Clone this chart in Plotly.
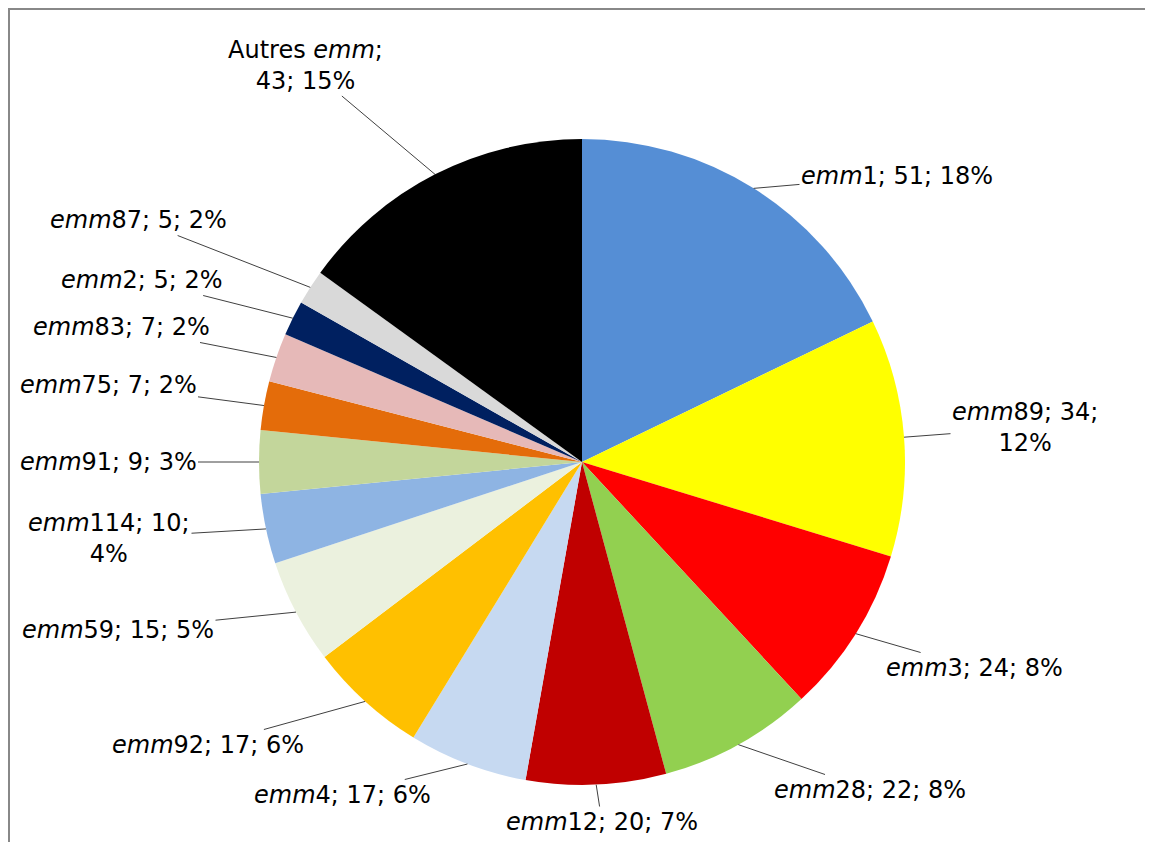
import math
import plotly.graph_objects as go

# page body adds an 8px margin, so the figure is drawn 8px smaller and shifted
OFF = 8
W, H = 1153 - OFF, 842 - OFF

types = ["<i>emm</i>1", "<i>emm</i>89", "<i>emm</i>3", "<i>emm</i>28", "<i>emm</i>12",
         "<i>emm</i>4", "<i>emm</i>92", "<i>emm</i>59", "<i>emm</i>114", "<i>emm</i>91",
         "<i>emm</i>75", "<i>emm</i>83", "<i>emm</i>2", "<i>emm</i>87", "Autres <i>emm</i>"]
counts = [51, 34, 24, 22, 20, 17, 17, 15, 10, 9, 7, 7, 5, 5, 43]
percents = [18, 12, 8, 8, 7, 6, 6, 5, 4, 3, 2, 2, 2, 2, 15]

colors = ["#558ED5", "#FFFF00", "#FF0000", "#92D050", "#C00000",
          "#C6D9F1", "#FFC000", "#EBF1DE", "#8EB4E3", "#C3D69B",
          "#E46C0A", "#E6B9B8", "#002060", "#D9D9D9", "#000000"]

# label centres in page pixels (layout only) and where lines wrap
label_px = [(897, 176), (1025, 428), (974, 668), (870, 790), (602, 822),
            (342, 795), (208, 745), (118, 630), (109, 538), (108, 462),
            (108, 385), (121, 327), (142, 280), (138, 220), (305, 65)]
wrap = {1: 2, 8: 2, 14: 1}

cx, cy, R = 582 - OFF, 462 - OFF, 323

fig = go.Figure(go.Pie(
    values=counts, labels=types, sort=False, direction="clockwise", rotation=0,
    marker=dict(colors=colors, line=dict(width=0)),
    textinfo="none", hoverinfo="label+value+percent", showlegend=False,
    domain=dict(x=[(cx - R) / W, (cx + R) / W], y=[(H - cy - R) / H, (H - cy + R) / H]),
))

total = sum(counts)
cum = 0
for i, v in enumerate(counts):
    mid = (cum + v / 2) / total * 2 * math.pi
    cum += v
    ex = cx + R * math.sin(mid)
    ey = cy - R * math.cos(mid)
    parts = [types[i], str(counts[i]), f"{percents[i]}%"]
    if i in wrap:
        k = wrap[i]
        text = "; ".join(parts[:k]) + ";<br>" + "; ".join(parts[k:])
    else:
        text = "; ".join(parts)
    lx, ly = label_px[i]
    lx, ly = lx - OFF, ly - OFF
    fig.add_annotation(
        x=ex / W, y=1 - ey / H, xref="paper", yref="paper",
        ax=lx - ex, ay=ly - ey, text=text, showarrow=True,
        arrowhead=0, arrowwidth=1, arrowcolor="#404040", standoff=0,
        font=dict(family="DejaVu Sans, sans-serif", size=24, color="#000000"),
        align="center",
    )

fig.add_shape(type="line", xref="paper", yref="paper", x0=0, x1=1,
              y0=1 - 1 / H, y1=1 - 1 / H, line=dict(color="#888888", width=2))
fig.add_shape(type="line", xref="paper", yref="paper", x0=1 / W, x1=1 / W,
              y0=0, y1=1 - 1 / H, line=dict(color="#888888", width=2))

fig.update_layout(width=W, height=H, margin=dict(l=0, r=0, t=0, b=0),
                  paper_bgcolor="white", plot_bgcolor="white")

fig.write_html("out.html")
